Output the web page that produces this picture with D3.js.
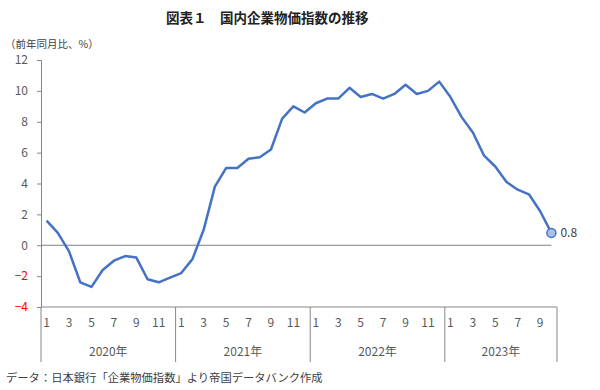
<!DOCTYPE html>
<html>
<head>
<meta charset="utf-8">
<script src="https://cdn.jsdelivr.net/npm/d3@7"></script>
<style>
  body { margin: 0; background: #fff; }
  svg text { font-family: "Noto Sans CJK JP", "Noto Sans", sans-serif; }
</style>
</head>
<body>
<div id="chart"></div>
<script>
// 国内企業物価指数 前年同月比（%）, 2020年1月〜2023年10月
const years = ["2020年", "2021年", "2022年", "2023年"];
const monthsPerYear = [12, 12, 12, 10];
const values = [
  1.6, 0.8, -0.4, -2.4, -2.7, -1.6, -1.0, -0.7, -0.8, -2.2, -2.4, -2.1,
  -1.8, -0.9, 1.0, 3.8, 5.0, 5.0, 5.6, 5.7, 6.2, 8.2, 9.0, 8.6,
  9.2, 9.5, 9.5, 10.2, 9.6, 9.8, 9.5, 9.8, 10.4, 9.8, 10.0, 10.6,
  9.6, 8.3, 7.3, 5.8, 5.1, 4.1, 3.6, 3.3, 2.2, 0.8
];
const yTicks = [-4, -2, 0, 2, 4, 6, 8, 10, 12];
const monthLabels = [1, 3, 5, 7, 9, 11];

const width = 600, height = 390;
const plotLeft = 41, plotRight = 557, plotTop = 60, plotBottom = 307;

const svg = d3.select("#chart").append("svg")
  .attr("width", width)
  .attr("height", height);

// build month list
const months = [];
years.forEach((yr, yi) => {
  for (let m = 1; m <= monthsPerYear[yi]; m++) months.push({ year: yi, month: m });
});

const x = d3.scaleBand()
  .domain(d3.range(months.length))
  .range([plotLeft, plotRight]);

const y = d3.scaleLinear()
  .domain([-4, 12])
  .range([plotBottom, plotTop]);

// title
svg.append("text")
  .attr("x", 166)
  .attr("y", 23)
  .attr("font-size", 13.5)
  .attr("font-weight", "bold")
  .attr("fill", "#222")
  .text("図表１　国内企業物価指数の推移");

svg.append("text")
  .attr("x", 5)
  .attr("y", 48)
  .attr("font-size", 10.5)
  .attr("fill", "#404040")
  .text("（前年同月比、%）");

// y axis
const yAxis = svg.append("g")
  .attr("transform", `translate(${plotLeft},0)`)
  .call(d3.axisLeft(y).tickValues(yTicks).tickSize(4).tickPadding(9).tickFormat(d3.format("d")));
yAxis.select(".domain").attr("stroke", "#868686");
yAxis.selectAll(".tick line").attr("stroke", "#868686");
yAxis.selectAll(".tick text")
  .attr("font-size", 12)
  .attr("font-family", "'Noto Sans CJK JP', sans-serif")
  .attr("fill", d => d < 0 ? "#ff0000" : "#595959");

// zero line
svg.append("line")
  .attr("x1", plotLeft)
  .attr("x2", x(months.length - 1) + x.bandwidth() / 2)
  .attr("y1", y(0))
  .attr("y2", y(0))
  .attr("stroke", "#7f7f7f")
  .attr("stroke-width", 1);

// category axis at bottom
svg.append("line")
  .attr("x1", plotLeft)
  .attr("x2", plotRight)
  .attr("y1", plotBottom)
  .attr("y2", plotBottom)
  .attr("stroke", "#868686");

// year separators
let idx = 0;
const bounds = [0];
monthsPerYear.forEach(n => { idx += n; bounds.push(idx); });
svg.selectAll("line.sep")
  .data(bounds)
  .enter()
  .append("line")
  .attr("class", "sep")
  .attr("x1", d => d < months.length ? x(d) : plotRight)
  .attr("x2", d => d < months.length ? x(d) : plotRight)
  .attr("y1", plotBottom)
  .attr("y2", 362)
  .attr("stroke", "#868686");

// month labels
svg.selectAll("text.month")
  .data(months.map((m, i) => ({ ...m, i })).filter(m => monthLabels.includes(m.month)))
  .enter()
  .append("text")
  .attr("class", "month")
  .attr("x", d => x(d.i) + x.bandwidth() / 2)
  .attr("y", 327)
  .attr("text-anchor", "middle")
  .attr("font-size", 12)
  .attr("fill", "#595959")
  .text(d => d.month);

// year labels
svg.selectAll("text.year")
  .data(years)
  .enter()
  .append("text")
  .attr("class", "year")
  .attr("x", (d, i) => {
    const x0 = x(bounds[i]);
    const x1 = bounds[i + 1] < months.length ? x(bounds[i + 1]) : plotRight;
    return (x0 + x1) / 2;
  })
  .attr("y", 356)
  .attr("text-anchor", "middle")
  .attr("font-size", 12)
  .attr("fill", "#595959")
  .text(d => d);

// line
const line = d3.line()
  .x((d, i) => x(i) + x.bandwidth() / 2)
  .y(d => y(d));

svg.append("path")
  .datum(values)
  .attr("fill", "none")
  .attr("stroke", "#4472c4")
  .attr("stroke-width", 2.5)
  .attr("stroke-linejoin", "round")
  .attr("d", line);

// last point marker
const last = values.length - 1;
svg.append("circle")
  .attr("cx", x(last) + x.bandwidth() / 2)
  .attr("cy", y(values[last]))
  .attr("r", 4.5)
  .attr("fill", "#a9c1e8")
  .attr("stroke", "#4472c4")
  .attr("stroke-width", 1.5);

svg.append("text")
  .attr("x", x(last) + x.bandwidth() / 2 + 9)
  .attr("y", y(values[last]) + 4.5)
  .attr("font-size", 12)
  .attr("fill", "#404040")
  .text(values[last].toFixed(1));

// caption
svg.append("text")
  .attr("x", 6)
  .attr("y", 382)
  .attr("font-size", 11.3)
  .attr("fill", "#404040")
  .text("データ：日本銀行「企業物価指数」より帝国データバンク作成");
</script>
</body>
</html>
